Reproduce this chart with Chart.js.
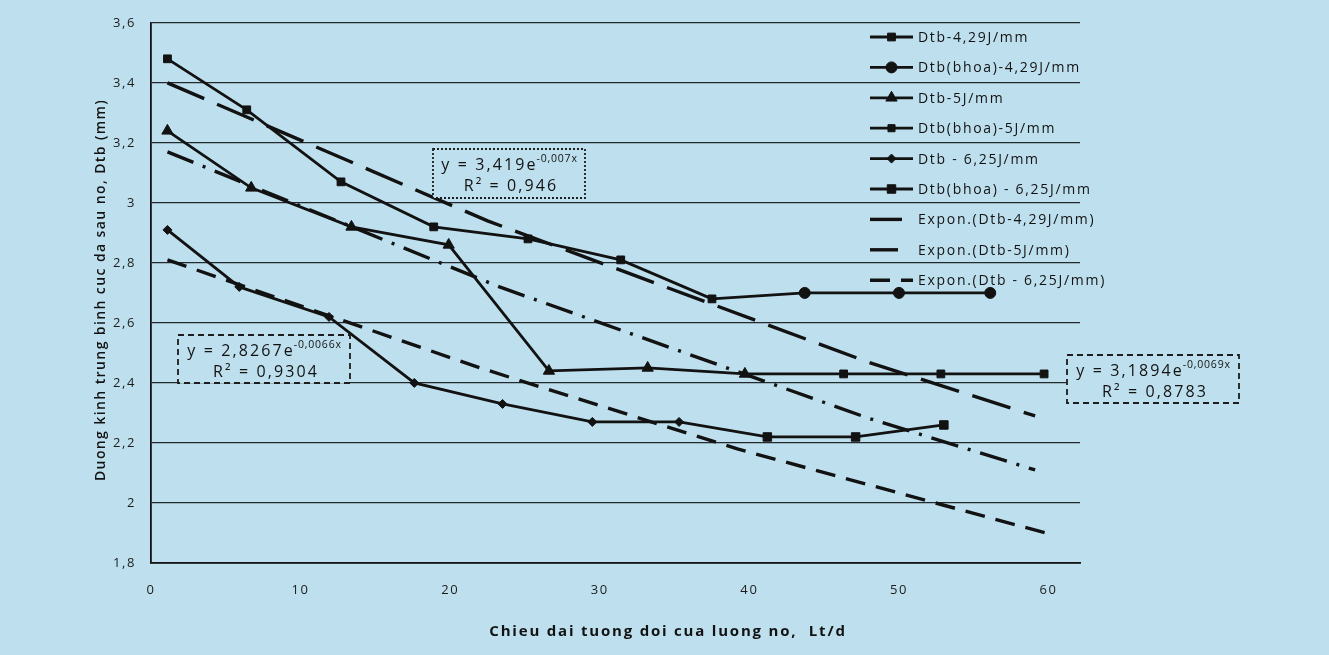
<!DOCTYPE html>
<html><head><meta charset="utf-8">
<script src="https://cdn.jsdelivr.net/npm/chart.js@4.4.1/dist/chart.umd.min.js"></script>
<style>
html,body{margin:0;padding:0;background:#bfe0ee;}
#wrap{width:1329px;height:655px;position:relative;overflow:hidden;}
canvas{display:block;}
</style>
</head><body>
<div id="wrap"><canvas id="c" width="1329" height="655"></canvas></div>
<script>
// ---- data ----
const xTickValues = [0, 10, 20, 30, 40, 50, 60];
const yTickValues = [1.8, 2.0, 2.2, 2.4, 2.6, 2.8, 3.0, 3.2, 3.4, 3.6];

const seriesLabels = [
  "Dtb-4,29J/mm", "Dtb(bhoa)-4,29J/mm", "Dtb-5J/mm", "Dtb(bhoa)-5J/mm",
  "Dtb - 6,25J/mm", "Dtb(bhoa) - 6,25J/mm",
  "Expon.(Dtb-4,29J/mm)", "Expon.(Dtb-5J/mm)", "Expon.(Dtb - 6,25J/mm)"
];

const x429  = [1.1, 6.4, 12.7, 18.9, 25.2, 31.4, 37.5];
const y429  = [3.48, 3.31, 3.07, 2.92, 2.88, 2.81, 2.68];
const x429b = [37.5, 43.7, 50.0, 56.1];
const y429b = [2.68, 2.70, 2.70, 2.70];

const x5  = [1.1, 6.7, 13.4, 19.9, 26.6, 33.2, 39.7];
const y5  = [3.24, 3.05, 2.92, 2.86, 2.44, 2.45, 2.43];
const x5b = [39.7, 46.3, 52.8, 59.7];
const y5b = [2.43, 2.43, 2.43, 2.43];

const x625  = [1.1, 5.9, 11.9, 17.6, 23.5, 29.5, 35.3];
const y625  = [2.91, 2.72, 2.62, 2.40, 2.33, 2.27, 2.27];
const x625b = [35.3, 41.2, 47.1, 53.0];
const y625b = [2.27, 2.22, 2.22, 2.26];

// trend lines
const tx429 = [1.1, 22.5, 47.9, 59.1];
const ty429 = [3.40, 2.94, 2.47, 2.29];
const tx5   = [1.1, 23.3, 48.1, 59.1];
const ty5   = [3.17, 2.72, 2.28, 2.11];
const tx625 = [1.1, 22.0, 39.2, 59.8];
const ty625 = [2.81, 2.45, 2.18, 1.90];

const eqMain = ["y = 3,419e", "y = 2,8267e", "y = 3,1894e"];
const eqExp  = ["-0,007x", "-0,0066x", "-0,0069x"];
const eqR2   = ["R\u00B2 = 0,946", "R\u00B2 = 0,9304", "R\u00B2 = 0,8783"];

const xTitle = "Chieu dai tuong doi cua luong no,  Lt/d";
const yTitle = "Duong kinh trung binh cuc da sau no, Dtb (mm)";

// ---- styling ----
const BG = '#bee0ee';
const INK = '#121212';
const pts = (xs, ys) => xs.map((x, i) => ({ x: x, y: ys[i] }));

const lineDs = (label, data, style, radius, extra) => Object.assign({
  label, data, showLine: true, borderColor: INK, backgroundColor: INK,
  borderWidth: 2.8, pointStyle: style, pointRadius: radius, pointHoverRadius: radius,
  pointBackgroundColor: INK, pointBorderColor: INK, pointBorderWidth: 1, tension: 0
}, extra || {});

const trendDs = (label, data, dash) => ({
  label, data, showLine: true, borderColor: INK, backgroundColor: INK,
  borderWidth: 3.4, borderDash: dash, pointRadius: 0, pointHoverRadius: 0, tension: 0
});

const datasets = [
  lineDs(seriesLabels[0], pts(x429, y429), 'rect', 5.5),
  lineDs(seriesLabels[1], pts(x429b, y429b), 'circle', [0, 5.5, 5.5, 5.5]),
  lineDs(seriesLabels[2], pts(x5, y5), 'triangle', 6.5),
  lineDs(seriesLabels[3], pts(x5b, y5b), 'rect', [0, 5.5, 5.5, 5.5]),
  lineDs(seriesLabels[4], pts(x625, y625), 'rectRot', 4.5),
  lineDs(seriesLabels[5], pts(x625b, y625b), 'rect', [0, 6, 6, 6]),
  trendDs(seriesLabels[6], pts(tx429, ty429), [40, 14]),
  trendDs(seriesLabels[7], pts(tx5, ty5), [28, 10, 3, 10]),
  trendDs(seriesLabels[8], pts(tx625, ty625), [20, 11])
];
const legendRadius = [5.5, 5.5, 6.5, 5, 4.5, 6];

const fmt = v => {
  const r = Math.round(v * 10) / 10;
  return Number.isInteger(r) ? String(r) : r.toFixed(1).replace('.', ',');
};

const overlay = {
  id: 'overlay',
  beforeDraw(chart) {
    const ctx = chart.ctx;
    ctx.save();
    ctx.fillStyle = BG;
    ctx.fillRect(0, 0, chart.width, chart.height);
    ctx.restore();
    ctx.letterSpacing = '1.6px';
  },
  afterDraw(chart) {
    const ctx = chart.ctx;
    ctx.save();
    ctx.fillStyle = INK;
    ctx.strokeStyle = INK;

    // legend
    const lx0 = 870, lx1 = 913, tx = 918;
    const ly0 = 37, step = 30.4;
    ctx.font = '14px "Open Sans"';
    ctx.letterSpacing = '1.7px';
    ctx.textBaseline = 'middle';
    ctx.textAlign = 'left';
    chart.data.datasets.forEach((ds, i) => {
      const y = ly0 + i * step;
      ctx.save();
      ctx.lineWidth = ds.borderWidth;
      ctx.setLineDash(ds.borderDash || []);
      ctx.beginPath();
      if (i < 6) { ctx.moveTo(lx0, y); ctx.lineTo(lx1, y); }
      else { ctx.moveTo(lx0, y); ctx.lineTo(i === 8 ? 913 : 902, y); }
      ctx.stroke();
      ctx.restore();
      if (i < 6) {
        ctx.save();
        ctx.fillStyle = INK; ctx.strokeStyle = INK;
        Chart.helpers.drawPoint(ctx, {
          pointStyle: ds.pointStyle, radius: legendRadius[i], rotation: 0, borderWidth: 1
        }, (lx0 + lx1) / 2, y);
        ctx.restore();
      }
      ctx.fillText(ds.label, tx, y + 1);
    });

    // equation boxes
    const boxes = [
      { x: 433, y: 149, w: 152, h: 49, dash: [2, 2] },
      { x: 178, y: 335, w: 172, h: 48, dash: [6, 4] },
      { x: 1067, y: 355, w: 172, h: 48, dash: [6, 4] }
    ];
    const bigF = '16px "Open Sans"', bigS = '2.1px';
    const supF = '10.5px "Open Sans"', supS = '0.8px';
    boxes.forEach((b, i) => {
      ctx.save();
      ctx.fillStyle = BG;
      ctx.fillRect(b.x, b.y, b.w, b.h);
      ctx.setLineDash(b.dash);
      ctx.lineWidth = 1.8;
      ctx.strokeStyle = '#1d1d1d';
      ctx.strokeRect(b.x, b.y, b.w, b.h);
      ctx.restore();

      ctx.save();
      ctx.fillStyle = INK;
      ctx.textBaseline = 'alphabetic';
      ctx.font = bigF; ctx.letterSpacing = bigS;
      const w1 = ctx.measureText(eqMain[i]).width;
      ctx.font = supF; ctx.letterSpacing = supS;
      const w2 = ctx.measureText(eqExp[i]).width;
      const cx = b.x + b.w / 2;
      const sx = cx - (w1 + w2) / 2 + 1;
      ctx.font = bigF; ctx.letterSpacing = bigS;
      ctx.textAlign = 'left';
      ctx.fillText(eqMain[i], sx, b.y + 21);
      ctx.font = supF; ctx.letterSpacing = supS;
      ctx.fillText(eqExp[i], sx + w1 - 1, b.y + 13);
      ctx.font = bigF; ctx.letterSpacing = bigS;
      ctx.textAlign = 'center';
      ctx.fillText(eqR2[i], cx + 2, b.y + 42);
      ctx.restore();
    });

    // x title
    ctx.save();
    ctx.fillStyle = INK;
    ctx.font = 'bold 15px "Open Sans"';
    ctx.letterSpacing = '1.8px';
    ctx.textAlign = 'center';
    ctx.textBaseline = 'middle';
    ctx.fillText(xTitle, 668, 632);
    ctx.restore();

    // y title
    ctx.save();
    ctx.fillStyle = INK;
    ctx.font = '600 14px "Open Sans"';
    ctx.letterSpacing = '1.4px';
    ctx.translate(101, 290);
    ctx.rotate(-Math.PI / 2);
    ctx.textAlign = 'center';
    ctx.textBaseline = 'middle';
    ctx.fillText(yTitle, 0, 0);
    ctx.restore();

    ctx.restore();
  }
};

new Chart(document.getElementById('c'), {
  type: 'scatter',
  data: { datasets },
  options: {
    responsive: false,
    devicePixelRatio: 1,
    animation: false,
    layout: { padding: { left: 0, top: 22, right: 249, bottom: 0 } },
    plugins: { legend: { display: false }, tooltip: { enabled: false }, title: { display: false } },
    scales: {
      x: {
        type: 'linear', min: 0, max: 62.1,
        grid: { display: false, drawTicks: false },
        border: { display: true, color: INK, width: 1.8 },
        ticks: { color: '#1c1c1c', font: { family: 'Open Sans', size: 13 }, padding: 19, maxRotation: 0,
                 callback: v => String(v) },
        afterBuildTicks: s => { s.ticks = xTickValues.map(v => ({ value: v })); },
        afterFit: s => { s.height = 92; }
      },
      y: {
        type: 'linear', min: 1.8, max: 3.6,
        grid: { color: '#23292d', lineWidth: 1.2, drawTicks: false },
        border: { display: true, color: INK, width: 1.8 },
        ticks: { color: '#1c1c1c', font: { family: 'Open Sans', size: 13 }, padding: 15,
                 callback: v => fmt(v) },
        afterBuildTicks: s => { s.ticks = yTickValues.map(v => ({ value: v })); },
        afterFit: s => { s.width = 151; }
      }
    }
  },
  plugins: [overlay]
});
</script>
</body></html>
